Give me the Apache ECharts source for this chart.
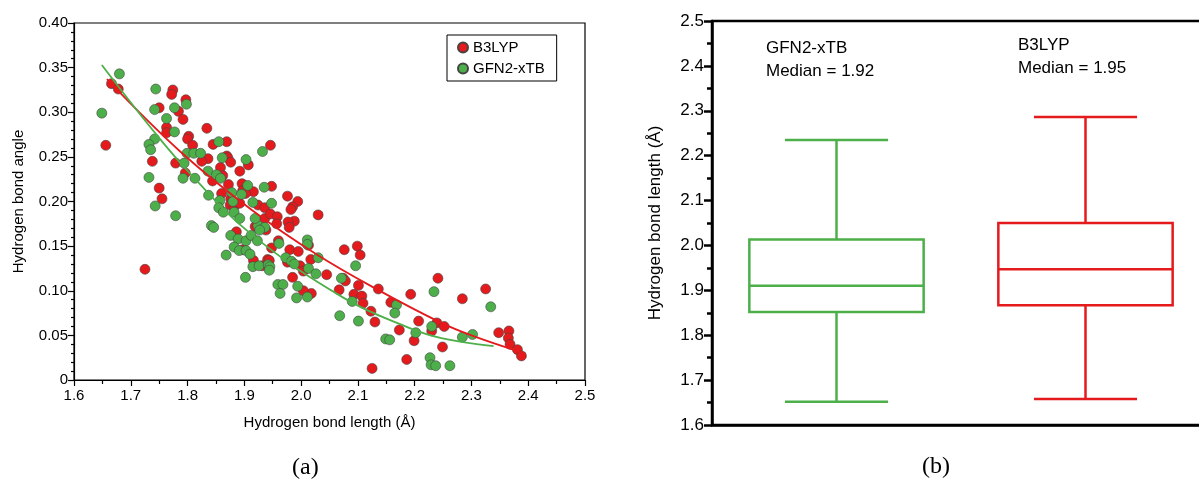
<!DOCTYPE html>
<html>
<head>
<meta charset="utf-8">
<script src="https://cdn.jsdelivr.net/npm/echarts@6/dist/echarts.min.js"></script>
<style>
html,body{margin:0;padding:0;background:#fff;}
#c{width:1199px;height:484px;}
</style>
</head>
<body>
<div id="c"></div>
<script>
// ---- Panel (a): scatter data [bond length (Å), bond angle] ----
const b3lypPoints = [
 [1.666,0.332],[1.678,0.326],[1.774,0.325],[1.772,0.320],[1.797,0.314],[1.750,0.305],[1.784,0.301],[1.792,0.292],
 [1.763,0.283],[1.763,0.277],[1.802,0.273],[1.800,0.270],[1.809,0.263],[1.656,0.263],[1.738,0.245],[1.779,0.243],
 [1.796,0.232],[1.834,0.282],[1.845,0.264],[1.869,0.267],[1.946,0.263],[1.869,0.251],[1.871,0.249],[1.836,0.248],
 [1.876,0.244],[1.825,0.245],[1.892,0.234],[1.907,0.241],[1.858,0.238],[1.862,0.229],[1.844,0.223],[1.872,0.219],
 [1.896,0.220],[1.897,0.212],[1.916,0.211],[1.948,0.217],[1.860,0.209],[1.876,0.203],[1.902,0.209],[1.976,0.206],
 [1.994,0.200],[1.985,0.194],[1.875,0.196],[1.882,0.194],[1.924,0.196],[1.936,0.193],[1.725,0.124],[1.750,0.215],
 [1.755,0.203],[1.892,0.198],[1.936,0.181],[1.919,0.172],[1.938,0.168],[1.886,0.166],[1.897,0.146],[1.916,0.134],
 [1.932,0.128],[1.941,0.135],[1.982,0.191],[1.946,0.186],[1.958,0.183],[2.030,0.185],[1.988,0.178],[1.977,0.177],
 [1.957,0.175],[1.979,0.171],[1.960,0.156],[1.948,0.148],[2.013,0.151],[1.980,0.146],[1.995,0.144],[2.017,0.135],
 [1.944,0.134],[1.976,0.132],[1.998,0.128],[2.076,0.146],[2.099,0.150],[2.104,0.140],[2.045,0.118],[2.004,0.122],
 [1.985,0.115],[2.074,0.114],[2.078,0.111],[2.101,0.106],[2.067,0.101],[2.018,0.097],[2.004,0.100],[2.093,0.096],
 [2.107,0.094],[2.136,0.102],[2.109,0.086],[2.158,0.087],[2.123,0.077],[2.130,0.065],[2.193,0.096],[2.241,0.114],
 [2.284,0.091],[2.207,0.066],[2.239,0.064],[2.252,0.060],[2.230,0.055],[2.173,0.056],[2.199,0.044],[2.249,0.037],
 [2.325,0.102],[2.348,0.053],[2.366,0.055],[2.365,0.047],[2.368,0.040],[2.381,0.034],[2.388,0.027],[2.125,0.013],
 [2.186,0.023]
];
const gfn2Points = [
 [1.680,0.343],[1.649,0.299],[1.744,0.326],[1.742,0.303],[1.763,0.293],[1.777,0.305],[1.798,0.309],[1.777,0.278],
 [1.742,0.270],[1.732,0.264],[1.735,0.258],[1.732,0.227],[1.794,0.243],[1.799,0.254],[1.811,0.254],[1.792,0.226],
 [1.855,0.267],[1.932,0.256],[1.823,0.254],[1.861,0.249],[1.903,0.247],[1.836,0.234],[1.851,0.230],[1.858,0.226],
 [1.813,0.226],[1.906,0.218],[1.935,0.216],[1.878,0.210],[1.895,0.208],[1.837,0.207],[1.857,0.201],[1.915,0.199],
 [1.948,0.198],[1.880,0.200],[1.855,0.193],[1.743,0.195],[1.779,0.184],[1.863,0.188],[1.842,0.173],[1.846,0.171],
 [1.882,0.188],[1.892,0.181],[1.924,0.173],[1.919,0.181],[1.876,0.162],[1.889,0.158],[1.903,0.156],[1.912,0.162],
 [1.923,0.156],[1.882,0.149],[1.891,0.145],[1.903,0.145],[1.910,0.141],[1.868,0.140],[1.915,0.127],[1.926,0.128],
 [1.942,0.129],[1.902,0.115],[1.936,0.171],[1.927,0.168],[2.011,0.157],[1.961,0.153],[2.011,0.152],[1.973,0.137],
 [1.983,0.133],[1.988,0.130],[2.030,0.137],[1.945,0.127],[1.944,0.123],[2.013,0.125],[2.026,0.119],[2.096,0.128],
 [2.071,0.114],[1.959,0.107],[1.968,0.107],[1.963,0.097],[1.994,0.105],[1.992,0.092],[2.011,0.093],[2.090,0.088],
 [2.168,0.084],[2.165,0.075],[2.234,0.099],[2.101,0.066],[2.068,0.072],[2.230,0.060],[2.202,0.053],[2.149,0.046],
 [2.156,0.045],[2.284,0.048],[2.334,0.082],[2.302,0.051],[2.262,0.016],[2.227,0.025],[2.229,0.017],[2.237,0.016]
];
// fitted trend curves
const b3lypFit = [[1.658,0.337],[1.787,0.256],[1.912,0.191],[2.029,0.140],[2.141,0.099],[2.247,0.064],[2.300,0.050],[2.388,0.031]];
const gfn2Fit = [[1.649,0.353],[1.740,0.279],[1.805,0.231],[1.911,0.164],[2.075,0.092],[2.188,0.059],[2.247,0.047],[2.339,0.038]];

// ---- Panel (b): box plot statistics [min, Q1, median, Q3, max] ----
const boxCategories = ['GFN2-xTB', 'B3LYP'];
const gfn2Box = [1.652, 1.852, 1.910, 2.013, 2.235];
const b3lypBox = [1.658, 1.867, 1.947, 2.050, 2.286];
const gfn2Median = 'Median = 1.92';
const b3lypMedian = 'Median = 1.95';

const RED = '#e41a1c';
const GREEN = '#4daf4a';
const FONT = 'Liberation Sans, Arial, sans-serif';

function renderBox(params, api) {
  const xi = api.value(0);
  const mn = api.value(1), q1 = api.value(2), md = api.value(3), q3 = api.value(4), mx = api.value(5);
  const band = api.size([1, 0])[0];
  const half = band * 0.35, cap = band * 0.207;
  const pMin = api.coord([xi, mn]), pQ1 = api.coord([xi, q1]), pMd = api.coord([xi, md]);
  const pQ3 = api.coord([xi, q3]), pMax = api.coord([xi, mx]);
  const cx = pMd[0];
  const color = api.visual('color');
  const st = { stroke: color, fill: null, lineWidth: 2.5 };
  const line = (x1, y1, x2, y2) => ({ type: 'line', shape: { x1, y1, x2, y2 }, style: st });
  return {
    type: 'group',
    children: [
      { type: 'rect', shape: { x: cx - half, y: pQ3[1], width: 2 * half, height: pQ1[1] - pQ3[1] }, style: st },
      line(cx - half, pMd[1], cx + half, pMd[1]),
      line(cx, pQ3[1], cx, pMax[1]),
      line(cx, pQ1[1], cx, pMin[1]),
      line(cx - cap, pMax[1], cx + cap, pMax[1]),
      line(cx - cap, pMin[1], cx + cap, pMin[1])
    ]
  };
}

const chart = echarts.init(document.getElementById('c'));
const scatterStyle = c => ({ color: c, borderColor: '#444', borderWidth: 0.6, opacity: 1 });

chart.setOption({
  animation: false,
  textStyle: { fontFamily: FONT, color: '#000' },
  grid: [
    { left: 74, top: 23, width: 511, height: 357, show: true, borderColor: '#000', borderWidth: 1.2, containLabel: false, outerBoundsMode: 'none' },
    { left: 712, top: 21, width: 498, height: 404, show: true, borderColor: '#000', borderWidth: 2.5, containLabel: false, outerBoundsMode: 'none' }
  ],
  legend: {
    data: ['B3LYP', 'GFN2-xTB'],
    orient: 'vertical',
    left: 447, top: 35,
    itemWidth: 10, itemHeight: 10, itemGap: 6,
    padding: [5, 12, 5, 10],
    borderColor: '#000', borderWidth: 1,
    textStyle: { fontSize: 15, fontFamily: FONT, color: '#000' },
    icon: 'circle'
  },
  xAxis: [
    {
      gridIndex: 0, type: 'value', min: 1.6, max: 2.5, interval: 0.1,
      name: 'Hydrogen bond length (Å)', nameLocation: 'middle', nameGap: 35,
      nameTextStyle: { fontSize: 15, color: '#000', fontFamily: FONT },
      axisLine: { show: true, onZero: false, lineStyle: { color: '#000', width: 1.2 } },
      axisTick: { show: true, inside: false, length: 6, lineStyle: { color: '#000', width: 1.2 } },
      minorTick: { show: true, splitNumber: 2, length: 4, lineStyle: { color: '#000', width: 1.2 } },
      axisLabel: { fontSize: 15, color: '#000', margin: 8, formatter: v => v.toFixed(1) },
      splitLine: { show: false }
    },
    {
      gridIndex: 1, type: 'category', data: boxCategories, boundaryGap: true,
      axisLine: { show: true, lineStyle: { color: '#000', width: 2.5 } },
      axisTick: { show: false }, axisLabel: { show: false }, splitLine: { show: false }
    }
  ],
  yAxis: [
    {
      gridIndex: 0, type: 'value', min: 0, max: 0.4, interval: 0.05,
      name: 'Hydrogen bond angle', nameLocation: 'middle', nameGap: 48,
      nameTextStyle: { fontSize: 15, color: '#000', fontFamily: FONT },
      axisLine: { show: true, onZero: false, lineStyle: { color: '#000', width: 1.2 } },
      axisTick: { show: true, inside: false, length: 6, lineStyle: { color: '#000', width: 1.2 } },
      minorTick: { show: true, splitNumber: 5, length: 3, lineStyle: { color: '#000', width: 1.2 } },
      axisLabel: { fontSize: 15, color: '#000', margin: 6, formatter: v => (v === 0 ? '0' : v.toFixed(2)) },
      splitLine: { show: false }
    },
    {
      gridIndex: 1, type: 'value', min: 1.6, max: 2.5, interval: 0.1,
      name: 'Hydrogen bond length (Å)', nameLocation: 'middle', nameGap: 48,
      nameTextStyle: { fontSize: 17, color: '#000', fontFamily: FONT },
      axisLine: { show: true, onZero: false, lineStyle: { color: '#000', width: 2.5 } },
      axisTick: { show: true, inside: false, length: 8, lineStyle: { color: '#000', width: 2.5 } },
      minorTick: { show: true, splitNumber: 2, length: 5, lineStyle: { color: '#000', width: 2.5 } },
      axisLabel: { fontSize: 17, color: '#000', margin: 8, formatter: v => v.toFixed(1) },
      splitLine: { show: false }
    }
  ],
  series: [
    { name: 'B3LYP', type: 'scatter', xAxisIndex: 0, yAxisIndex: 0, data: b3lypPoints, symbolSize: 10, itemStyle: scatterStyle(RED), z: 2 },
    { name: 'GFN2-xTB', type: 'scatter', xAxisIndex: 0, yAxisIndex: 0, data: gfn2Points, symbolSize: 10, itemStyle: scatterStyle(GREEN), z: 2 },
    { name: 'B3LYP fit', type: 'line', xAxisIndex: 0, yAxisIndex: 0, data: b3lypFit, smooth: 0.4, showSymbol: false, lineStyle: { color: RED, width: 1.8 }, itemStyle: { color: RED }, z: 3 },
    { name: 'GFN2-xTB fit', type: 'line', xAxisIndex: 0, yAxisIndex: 0, data: gfn2Fit, smooth: 0.4, showSymbol: false, lineStyle: { color: GREEN, width: 1.8 }, itemStyle: { color: GREEN }, z: 3 },
    { name: 'GFN2-xTB box', type: 'custom', xAxisIndex: 1, yAxisIndex: 1, renderItem: renderBox, itemStyle: { color: GREEN },
      data: [[0].concat(gfn2Box)], encode: { x: 0, y: [1, 2, 3, 4, 5] } },
    { name: 'B3LYP box', type: 'custom', xAxisIndex: 1, yAxisIndex: 1, renderItem: renderBox, itemStyle: { color: RED },
      data: [[1].concat(b3lypBox)], encode: { x: 0, y: [1, 2, 3, 4, 5] } }
  ],
  graphic: [
    { type: 'text', left: 766, top: 37, style: { text: boxCategories[0] + '\n' + gfn2Median, font: '17px ' + FONT, fill: '#000', lineHeight: 23 } },
    { type: 'text', left: 1018, top: 34, style: { text: boxCategories[1] + '\n' + b3lypMedian, font: '17px ' + FONT, fill: '#000', lineHeight: 23 } },
    { type: 'text', left: 292, top: 456, style: { text: '(a)', font: '24px "Liberation Serif", serif', fill: '#000' } },
    { type: 'text', left: 922, top: 455, style: { text: '(b)', font: '24px "Liberation Serif", serif', fill: '#000' } }
  ]
});
</script>
</body>
</html>
